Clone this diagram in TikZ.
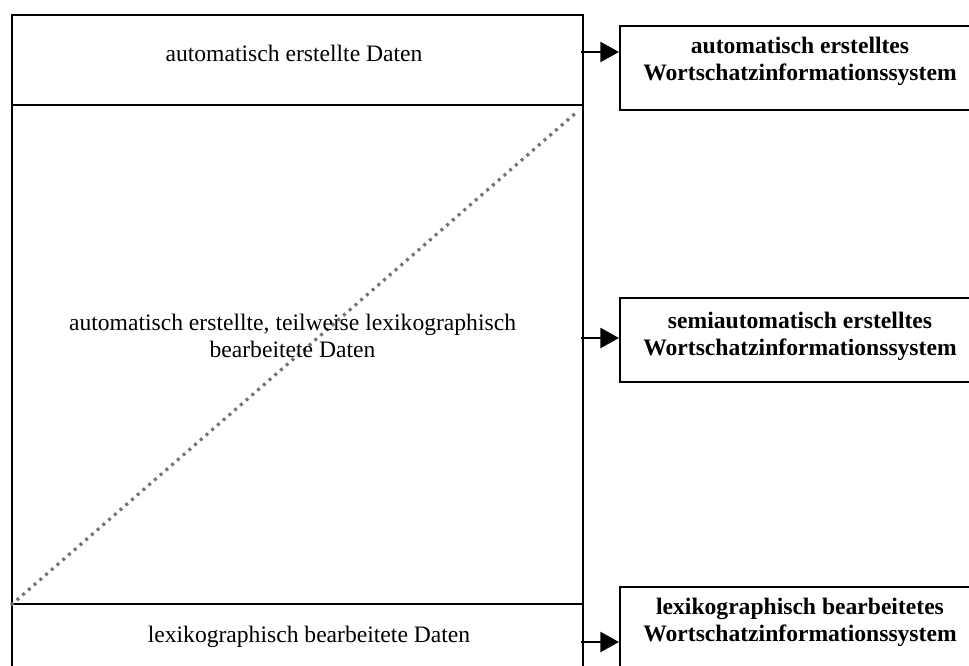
\documentclass[tikz,border=0pt]{standalone}
\usepackage{fontspec}
\setmainfont{Liberation Serif}
\usetikzlibrary{arrows.meta}
\begin{document}
\begin{tikzpicture}[x=0.75pt,y=-0.75pt,
  sect/.style={draw,line width=1.6pt,minimum width=571*0.75pt,inner sep=0pt,anchor=north west},
  outbox/.style={draw,line width=1.6pt,inner sep=0pt,minimum width=362*0.75pt,minimum height=84*0.75pt,anchor=north west},
  txt/.style={anchor=base,inner sep=0pt,font=\fontsize{17.7}{20.25}\selectfont},
  btxt/.style={anchor=base,inner sep=0pt,font=\fontsize{17.7}{20.25}\selectfont\bfseries},
  arr/.style={line width=1.6pt,-{Triangle[length=14pt,width=15pt]}},
  dotline/.style={draw=black!55,line width=2.4pt,dash pattern=on 2.2pt off 3.5pt}]
\useasboundingbox (0,0) rectangle (969,666);
\clip (0,0) rectangle (969,666);
% left column
\node[sect,minimum height=90*0.75pt] (s1) at (11,14) {};
\node[sect,minimum height=499*0.75pt] (s2) at (11,104) {};
\node[sect,minimum height=90*0.75pt] (s3) at (11,603) {};
\draw[dotline] (s2.south west) -- (578,111);
\node[txt] (t1) at (294,62) {automatisch erstellte Daten};
\node[txt] (t2a) at (292.5,330) {automatisch erstellte, teilweise lexikographisch};
\node[txt] (t2b) at (292.5,357) {bearbeitete Daten};
\node[txt] (t3) at (309,642) {lexikographisch bearbeitete Daten};
% right boxes
\node[outbox] (r1) at (619,25) {};
\node[outbox] (r2) at (619,297) {};
\node[outbox,minimum height=120*0.75pt] (r3) at (619,586) {};
\node[btxt] (r1a) at (800,54) {automatisch erstelltes};
\node[btxt] (r1b) at (800,81) {Wortschatzinformationssystem};
\node[btxt] (r2a) at (800,328) {semiautomatisch erstelltes};
\node[btxt] (r2b) at (800,355) {Wortschatzinformationssystem};
\node[btxt] (r3a) at (800,614) {lexikographisch bearbeitetes};
\node[btxt] (r3b) at (800,641) {Wortschatzinformationssystem};
% arrows
\coordinate (a1) at (581,52);
\coordinate (a2) at (581,338);
\coordinate (a3) at (581,642);
\draw[arr] (a1) -- (r1.west |- a1);
\draw[arr] (a2) -- (r2.west |- a2);
\draw[arr] (a3) -- (r3.west |- a3);
\end{tikzpicture}
\end{document}
